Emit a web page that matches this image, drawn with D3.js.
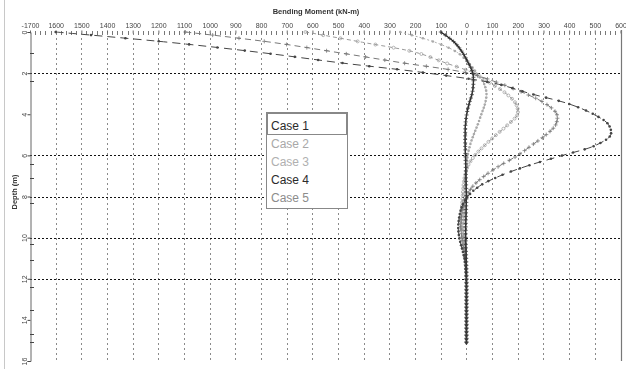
<!DOCTYPE html>
<html>
<head>
<meta charset="utf-8">
<script src="https://cdn.jsdelivr.net/npm/d3@7"></script>
<style>
  html, body { margin: 0; padding: 0; background: #fff; }
  svg { display: block; font-family: "Liberation Sans", Arial, sans-serif; opacity: 0.995; }
</style>
</head>
<body>
<svg id="chart" width="626" height="369"></svg>
<script>
// Depth below pile head (m), shared by every case
const depths = [0, 0.5, 1, 1.5, 2, 2.5, 3, 3.5, 4, 4.5, 5, 5.5, 6, 6.5, 7, 7.5,
                8, 8.5, 9, 9.5, 10, 10.5, 11, 11.5, 12, 12.5, 13, 13.5, 14, 14.5, 15, 15.2];

// Bending moment (kN-m) for each case at the depths above
const case1 = [-100, -47, -15, 7, 25, 27, 22, 10, 1, -4, -5, -5, -4, -3, -2, -1,
               0, -1, -2, -3, -3, -2, -1, 0, 0, 0, 0, 0, 0, 0, 0, 0];
const case2 = [-258, -122, -35, 8, 40, 68, 78, 72, 58, 44, 28, 14, 5, 1, -3, -5,
               -6, -8, -10, -10, -8, -5, -3, -1, 0, 0, 0, 0, 0, 0, 0, 0];
const case3 = [-627, -405, -195, -82, 28, 95, 155, 193, 199, 162, 116, 72, 33, 6, -6, -12,
               -15, -18, -20, -18, -12, -7, -3, -1, 0, 0, 0, 0, 0, 0, 0, 0];
const case4 = [-1600, -1160, -800, -490, -150, 110, 250, 400, 495, 553, 562, 505, 375, 240, 130, 50,
               5, -18, -28, -32, -28, -18, -8, -3, -1, 0, 0, 0, 0, 0, 0, 0];
const case5 = [-1095, -760, -500, -250, 5, 130, 230, 310, 352, 348, 310, 255, 200, 130, 70, 25,
               0, -12, -20, -22, -18, -12, -6, -2, 0, 0, 0, 0, 0, 0, 0, 0];

const caseNames = ["Case 1", "Case 2", "Case 3", "Case 4", "Case 5"];
const caseValues = [case1, case2, case3, case4, case5];

// Axis ticks and labels
const momentTicks = [-1700, -1600, -1500, -1400, -1300, -1200, -1100, -1000, -900, -800, -700,
                     -600, -500, -400, -300, -200, -100, 0, 100, 200, 300, 400, 500, 600];
const momentTickLabels = ["-1700", "1600", "1500", "1400", "1300", "1200", "1100", "1000", "900", "800", "700",
                          "600", "500", "400", "300", "200", "100", "0", "100", "200", "300", "400", "500", "600"];
const depthTicks = [0, 2, 4, 6, 8, 10, 12, 14, 16];
const depthTickLabels = ["0", "2", "4", "6", "8", "10", "12", "14", "16"];
const depthMinorTicks = [1, 2.4, 6.4, 7.1, 8.3, 10.3, 11.1, 12.4, 13.5, 14.7, 15.1];
const depthGridLines = [2, 6, 8, 10, 12];

// Styling per case
const caseStyles = [
  { stroke: "#1a1a1a", mark: "#3a3a3a", width: 1.3, dash: null,  marker: "plus",   legend: "#2a2a2a" },
  { stroke: "#aaa",    mark: "#aaa",    width: 1.0, dash: "2,2", marker: "dot",    legend: "#a8a8a8" },
  { stroke: "#999",    mark: "#999",    width: 1.0, dash: "4,3", marker: "circle", legend: "#b0b0b0" },
  { stroke: "#444",    mark: "#444",    width: 1.0, dash: "8,5", marker: "dot",    legend: "#2a2a2a" },
  { stroke: "#777",    mark: "#777",    width: 1.0, dash: "6,4", marker: "plus",   legend: "#8c8c8c" }
];

const svg = d3.select("#chart");

const x = d3.scaleLinear().domain([-1700, 600]).range([30, 620.5]);
const y = d3.scaleLinear().domain([0, 16]).range([32, 361]);

// frame edge on the far left
svg.append("line").attr("x1", 4.5).attr("x2", 4.5).attr("y1", 0).attr("y2", 369)
  .attr("stroke", "#c8c8c8").attr("stroke-width", 1);

// vertical grid
svg.append("g").selectAll("line")
  .data(momentTicks.filter(v => v > -1700 && v < 600))
  .join("line")
  .attr("x1", d => Math.round(x(d)) + 0.5).attr("x2", d => Math.round(x(d)) + 0.5)
  .attr("y1", 33).attr("y2", 361)
  .attr("stroke", "#8a8a8a").attr("stroke-width", 1).attr("stroke-dasharray", "2,3");

// horizontal grid
svg.append("g").selectAll("line")
  .data(depthGridLines)
  .join("line")
  .attr("x1", 30).attr("x2", 621)
  .attr("y1", d => Math.round(y(d)) + 0.5).attr("y2", d => Math.round(y(d)) + 0.5)
  .attr("stroke", "#111").attr("stroke-width", 1).attr("stroke-dasharray", "2,2");

// top axis (moment)
const topAxis = d3.axisTop(x)
  .tickValues(momentTicks)
  .tickFormat((d, i) => momentTickLabels[i])
  .tickSize(3).tickPadding(3);
const gTop = svg.append("g").attr("transform", "translate(0,33.5)").call(topAxis);
gTop.select(".domain").remove();
gTop.selectAll(".tick line").attr("stroke", "#666");
gTop.selectAll(".tick text").attr("font-size", 7).attr("fill", "#444")
  .attr("font-family", "Liberation Sans, Arial, sans-serif");
// minor ticks every 20 kN-m
svg.append("g").selectAll("line")
  .data(d3.range(-1700, 601, 20).filter(v => v % 100 !== 0))
  .join("line")
  .attr("x1", d => Math.round(x(d)) + 0.5).attr("x2", d => Math.round(x(d)) + 0.5)
  .attr("y1", 31).attr("y2", 35)
  .attr("stroke", "#777").attr("stroke-width", 1);

svg.append("text")
  .attr("x", 316).attr("y", 14).attr("text-anchor", "middle")
  .attr("font-size", 7.5).attr("font-weight", "bold").attr("fill", "#333")
  .text("Bending Moment (kN-m)");

// left axis (depth)
const leftAxis = d3.axisLeft(y)
  .tickValues(depthTicks)
  .tickFormat((d, i) => depthTickLabels[i])
  .tickSize(3).tickPadding(3);
const gLeft = svg.append("g").attr("transform", "translate(30.5,0)").call(leftAxis);
gLeft.select(".domain").attr("stroke", "#666");
gLeft.selectAll(".tick line").attr("stroke", "#444");
gLeft.selectAll(".tick text")
  .attr("font-size", 7).attr("fill", "#444")
  .attr("text-anchor", "middle").attr("dy", null).attr("x", null)
  .attr("transform", "translate(-6.5,0) rotate(-90)")
  .attr("dominant-baseline", "central");
svg.append("g").selectAll("line")
  .data(depthMinorTicks)
  .join("line")
  .attr("x1", 30).attr("x2", 34)
  .attr("y1", d => Math.round(y(d)) + 0.5).attr("y2", d => Math.round(y(d)) + 0.5)
  .attr("stroke", "#444").attr("stroke-width", 1);

svg.append("text")
  .attr("transform", "translate(17,192) rotate(-90)")
  .attr("text-anchor", "middle")
  .attr("font-size", 7.5).attr("font-weight", "bold").attr("fill", "#333")
  .text("Depth (m)");

// right border
svg.append("line").attr("x1", 621.5).attr("x2", 621.5).attr("y1", 30).attr("y2", 361)
  .attr("stroke", "#777").attr("stroke-width", 1.2);

// curves
const line = d3.line()
  .x(d => x(d[1]))
  .y(d => y(d[0]))
  .curve(d3.curveCatmullRom.alpha(0.5));

// markers sit on the drawn curve at a fixed depth spacing (0.15 m)
const markerStep = y(0.15) - y(0);

const drawOrder = [1, 2, 4, 3, 0];
drawOrder.forEach(ci => {
  const st = caseStyles[ci];
  const pts = depths.map((d, i) => [d, caseValues[ci][i]]);
  const g = svg.append("g");
  const path = g.append("path")
    .attr("d", line(pts))
    .attr("fill", "none")
    .attr("stroke", st.stroke)
    .attr("stroke-width", st.width)
    .attr("stroke-dasharray", st.dash);

  const node = path.node();
  const total = node.getTotalLength();
  const spots = [];
  let lastY = -Infinity;
  for (let s = 0; s <= total; s += 0.5) {
    const p = node.getPointAtLength(s);
    if (p.y - lastY >= markerStep) { spots.push(p); lastY = p.y; }
  }
  const m = g.selectAll("g.m").data(spots).join("g")
    .attr("transform", p => `translate(${p.x},${p.y})`);
  if (st.marker === "plus") {
    m.append("path").attr("d", "M-2,0H2M0,-2V2").attr("stroke", st.mark).attr("stroke-width", 0.8);
  } else if (st.marker === "dot") {
    m.append("circle").attr("r", 1.3).attr("fill", st.mark);
  } else {
    m.append("circle").attr("r", 1.5).attr("fill", "none").attr("stroke", st.mark).attr("stroke-width", 0.7);
  }
});

// legend
const lg = svg.append("g");
lg.append("rect").attr("x", 266.5).attr("y", 112.5).attr("width", 81).attr("height", 96)
  .attr("fill", "#fff").attr("stroke", "#888").attr("stroke-width", 1);
lg.append("rect").attr("x", 267.5).attr("y", 113.5).attr("width", 79).attr("height", 21)
  .attr("fill", "none").attr("stroke", "#111").attr("stroke-width", 1).attr("stroke-dasharray", "1,1");
lg.selectAll("text").data(caseNames).join("text")
  .attr("x", 271).attr("y", (d, i) => 129.5 + i * 18.2)
  .attr("font-size", 12).attr("fill", (d, i) => caseStyles[i].legend)
  .text(d => d);
</script>
</body>
</html>
